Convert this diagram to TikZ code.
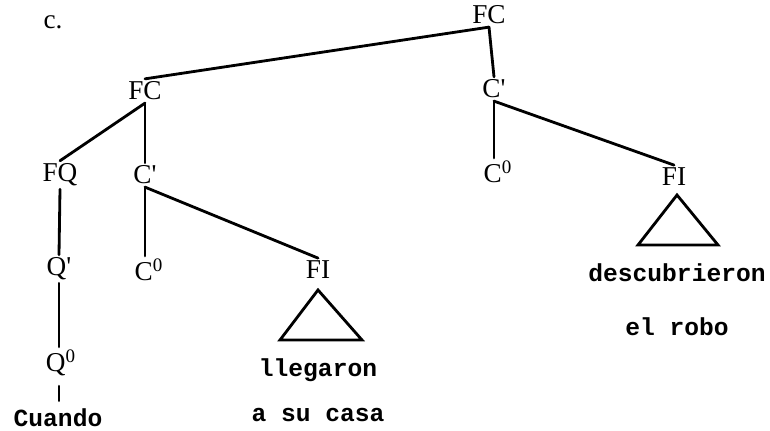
\documentclass[tikz,border=0pt]{standalone}
\usepackage{fontspec}
\setmainfont{Liberation Serif}
\newfontfamily\wordfont{Liberation Mono}
\usetikzlibrary{positioning}
\tikzset{
  cat/.style={font=\fontsize{15.5}{18}\selectfont, inner sep=1.5pt},
  leaf/.style={font=\wordfont\fontsize{14}{17}\selectfont\bfseries, inner sep=1.5pt},
  branch/.style={line width=1.6pt, line cap=round},
  roof/.style={line width=1.6pt, line join=miter},
}

\begin{document}
\begin{tikzpicture}[x=0.02cm, y=-0.02cm]
  \useasboundingbox (0,0) rectangle (770,431);
  \node[cat] (tag) at (53,22) {c.};
  % root and its two daughters
  \node[cat] (fc) at (489,15) {FC};
  \node[cat] (fcl) at (145,91) {FC};
  \node[cat] (cbr) at (494,89) {C\textquotesingle};
  % left clause
  \node[cat] (fq) at (60,175) {FQ};
  \node[cat] (cbl) at (145,175) {C\textquotesingle};
  \node[cat] (qb) at (59,269) {Q\textquotesingle};
  \node[cat] (cl0) at (149,270) {C\textsuperscript{0}};
  \node[cat] (fil) at (318,270) {FI};
  \node[cat] (q0) at (61,363) {Q\textsuperscript{0}};
  \node[leaf] (cuando) at (58,418) {Cuando};
  \node[leaf] (lleg) at (318,370) {llegaron};
  \node[leaf] (casa) at (318,415) {a su casa};
  % right clause
  \node[cat] (cr0) at (498,172) {C\textsuperscript{0}};
  \node[cat] (fir) at (674,177) {FI};
  \node[leaf] (desc) at (677,273) {descubrieron};
  \node[leaf] (robo) at (677,327) {el robo};

  \draw[branch] (fc.south) -- (fcl.north);
  \draw[branch] (fc.south) -- (cbr.north);
  \draw[branch] (fcl.south) -- (fq.north);
  \draw[branch] (fcl.south) -- (cbl.north);
  \draw[branch] (fq.south) -- (qb.north);
  \draw[branch] (qb.south) -- (q0.north -| qb);
  \draw[branch, shorten <=4pt, shorten >=3pt] (q0.south -| qb) -- (cuando.north -| qb);
  \draw[branch] (cbl.south) -- (cbl |- cl0.north);
  \draw[branch] (cbl.south) -- (fil.north);
  \draw[branch] (cbr.south) -- (cbr |- cr0.north);
  \draw[branch] (cbr.south) -- (fir.north);
  % roofs
  \draw[roof] (318,290) -- (280,340) -- (362,340) -- cycle;
  \draw[roof] (677,195) -- (638,245) -- (718,245) -- cycle;
\end{tikzpicture}
\end{document}
